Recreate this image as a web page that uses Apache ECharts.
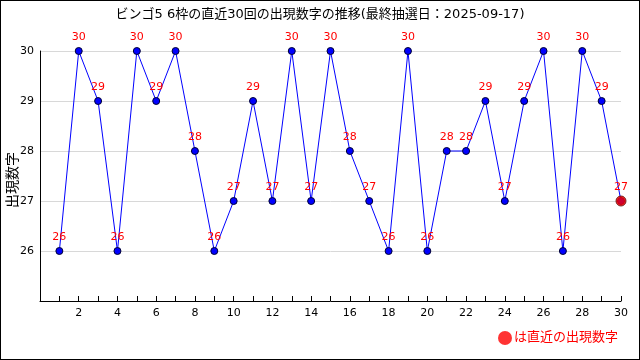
<!DOCTYPE html>
<html><head><meta charset="utf-8">
<script src="https://cdn.jsdelivr.net/npm/echarts@6/dist/echarts.min.js"></script>
<style>html,body{margin:0;padding:0;background:#fff}#c{width:638px;height:358px;border:1px solid #000}</style>
</head><body><div id="c"></div>
<script>
const draws = [1,2,3,4,5,6,7,8,9,10,11,12,13,14,15,16,17,18,19,20,21,22,23,24,25,26,27,28,29,30];
const values = [26,30,29,26,30,29,30,28,26,27,29,27,30,27,30,28,27,26,30,26,28,28,29,27,29,30,26,30,29,27];
const titleText = 'ビンゴ5 6枠の直近30回の出現数字の推移(最終抽選日：2025-09-17)';
const yName = '出現数字';
const legendName = 'は直近の出現数字';

const lineData = draws.map((d,i)=>[d,values[i]]);
const lastData = [[draws[draws.length-1], values[values.length-1]]];
const font = '"DejaVu Sans", "Noto Sans CJK JP", sans-serif';
const chart = echarts.init(document.getElementById('c'));
chart.setOption({
  animation:false,
  textStyle:{fontFamily:font},
  title:{text:titleText,left:'center',top:2,textStyle:{fontSize:13,fontWeight:'normal',color:'#000',fontFamily:font}},
  grid:{left:39,right:18,top:50,bottom:58,outerBoundsMode:'none',containLabel:false},
  legend:{right:16,bottom:9,itemWidth:14,itemHeight:14,itemGap:1,
    data:[{name:legendName,icon:'circle',itemStyle:{borderWidth:0,color:'#ff0000'}}],
    textStyle:{color:'#ff0000',fontSize:13,padding:[0,0,0,-3]}},
  graphic:[{type:'text',x:4,y:207,rotation:Math.PI/2,
    style:{text:yName,fill:'#000',font:'14px "Noto Sans CJK JP", sans-serif',textAlign:'left',textVerticalAlign:'top'}}],
  xAxis:{type:'value',min:0,max:30,interval:1,
    axisLine:{lineStyle:{color:'#000'}},
    axisTick:{inside:true,length:5,lineStyle:{color:'#000'}},
    axisLabel:{color:'#000',fontSize:11,margin:7,formatter:v=>(v>0&&v%2===0)?String(v):''},
    splitLine:{show:false}},
  yAxis:{type:'value',min:25,max:30,interval:1,
    axisLine:{show:true,onZero:false,lineStyle:{color:'#000'}},
    axisTick:{show:false},
    axisLabel:{color:'#000',fontSize:11,margin:6,formatter:v=>v===25?'':String(v)},
    splitLine:{show:true,lineStyle:{color:'#d8d8d8'}}},
  series:[
    {type:'line',data:lineData,symbol:'circle',symbolSize:7,
      lineStyle:{color:'#0000ff',width:1},
      itemStyle:{color:'#0000ff',borderColor:'#000033',borderWidth:1},
      label:{show:true,position:'top',distance:4,color:'#ff0000',fontSize:11,formatter:p=>p.value[1]},
      z:2},
    {type:'scatter',name:legendName,data:lastData,symbol:'circle',symbolSize:10,
      itemStyle:{color:'#ff0000',borderColor:'#550000',borderWidth:1},z:3}
  ]
});
</script></body></html>
